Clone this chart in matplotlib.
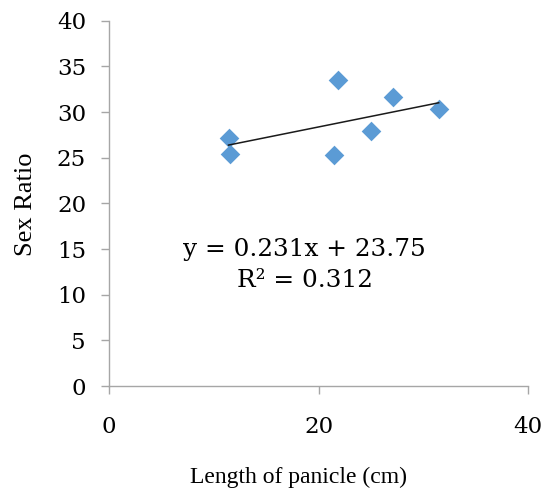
import matplotlib
matplotlib.use("Agg")
import matplotlib.pyplot as plt
import numpy as np

# data
panicle_len = [11.4, 11.5, 21.5, 21.8, 25.0, 27.1, 31.45]
sex_ratio = [27.2, 25.4, 25.3, 33.5, 27.9, 31.7, 30.3]
slope = 0.231
intercept = 23.75
r2 = 0.312

x_ticks = [0, 20, 40]
y_ticks = [0, 5, 10, 15, 20, 25, 30, 35, 40]

fig = plt.figure(figsize=(5.47, 4.91), dpi=100)
ax = fig.add_axes([0.1993, 0.2138, 0.7665, 0.744])

ax.scatter(panicle_len, sex_ratio, marker="D", s=100, color="#5B9BD5", zorder=3, linewidths=0)

# linear trendline over data range
xs = np.array([min(panicle_len), max(panicle_len)])
ax.plot(xs, slope * xs + intercept, color="#1a1a1a", lw=1.1, zorder=4)

ax.text(18.6, 14.9, "y = %.3fx + %.2f" % (slope, intercept), ha="center", va="center",
        fontsize=17.8, family="DejaVu Serif")
ax.text(18.7, 11.6, "R\u00b2 = %.3f" % r2, ha="center", va="center",
        fontsize=17.8, family="DejaVu Serif")

ax.set_xlim(0, 40)
ax.set_ylim(0, 40)
ax.set_xticks(x_ticks)
ax.set_yticks(y_ticks)

for s in ["top", "right"]:
    ax.spines[s].set_visible(False)
for s in ["left", "bottom"]:
    ax.spines[s].set_color("#A6A6A6")
    ax.spines[s].set_linewidth(1.0)

ax.tick_params(axis="both", colors="#A6A6A6", length=5.5, width=1.0, labelcolor="black",
               labelsize=16.5)
ax.tick_params(axis="y", pad=11)
ax.tick_params(axis="x", pad=16)
for lab in ax.get_xticklabels() + ax.get_yticklabels():
    lab.set_family("DejaVu Serif")

ax.set_xlabel("Length of panicle (cm)", family="Liberation Serif", fontsize=17)
ax.set_ylabel("Sex Ratio", family="Liberation Serif", fontsize=19)
ax.xaxis.set_label_coords(0.452, -0.222)
ax.yaxis.set_label_coords(-0.172, 0.498)

fig.savefig("out.png", dpi=100)
